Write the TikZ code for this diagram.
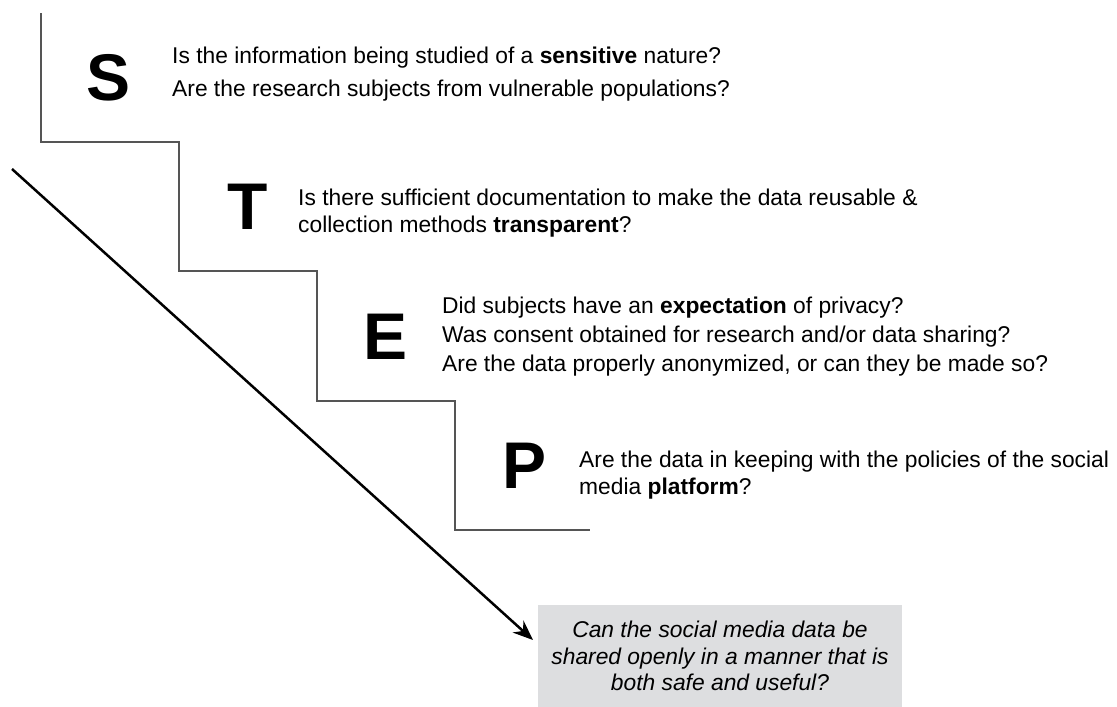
\documentclass[tikz,border=0pt]{standalone}
\usepackage{fontspec}
\setmainfont{Liberation Sans}
\usetikzlibrary{arrows.meta}
\definecolor{stairgray}{RGB}{85, 85, 85}
\definecolor{boxgray}{RGB}{221, 222, 224}

\tikzset{
  letter/.style={inner sep=0pt, font=\fontsize{66}{66}\selectfont\bfseries},
  question/.style={inner sep=0pt, anchor=west, align=left, font=\fontsize{22.8}{27}\selectfont},
  stair/.style={line width=1.5pt, color=stairgray},
  outcome/.style={fill=boxgray, draw=none, minimum width=364pt, minimum height=102pt, align=center, font=\fontsize{22.8}{26.5}\selectfont\itshape}
}

\begin{document}
\begin{tikzpicture}
\useasboundingbox (0pt, 0pt) rectangle (1117pt, -707pt);
\draw [stair] (41pt, -13pt) -- (41pt, -142pt) -- (179pt, -142pt) -- (179pt, -271pt) -- (317pt, -271pt) -- (317pt, -401pt) -- (455pt, -401pt) -- (455pt, -530pt) -- (590pt, -530pt);
\node (S) [letter] at (109pt, -78pt) {S};
\node (T) [letter] at (248pt, -207pt) {T};
\node (E) [letter] at (386pt, -337pt) {E};
\node (P) [letter] at (525pt, -466pt) {P};
\node (qS) [question, font=\fontsize{22.8}{33}\selectfont] at (172pt, -74pt) {Is the information being studied of a \textbf{sensitive} nature?\\Are the research subjects from vulnerable populations?};
\node (qT) [question] at (298pt, -213pt) {Is there sufficient documentation to make the data reusable \&\\collection methods \textbf{transparent}?};
\node (qE) [question, font=\fontsize{22.8}{29}\selectfont] at (442pt, -337pt) {Did subjects have an \textbf{expectation} of privacy?\\Was consent obtained for research and/or data sharing?\\Are the data properly anonymized, or can they be made so?};
\node (qP) [question, font=\fontsize{22.8}{26.5}\selectfont] at (579pt, -475pt) {Are the data in keeping with the policies of the social\\media \textbf{platform}?};
\node (answer) [outcome] at (720pt, -656pt) {Can the social media data be\\shared openly in a manner that is\\both safe and useful?};
\coordinate (start) at (12pt, -169pt);
\coordinate (tip) at (533pt, -640pt);
\draw [line width=2.5pt, -{Stealth[length=20pt, width=16pt]}] (start) -- (tip);
\end{tikzpicture}
\end{document}
